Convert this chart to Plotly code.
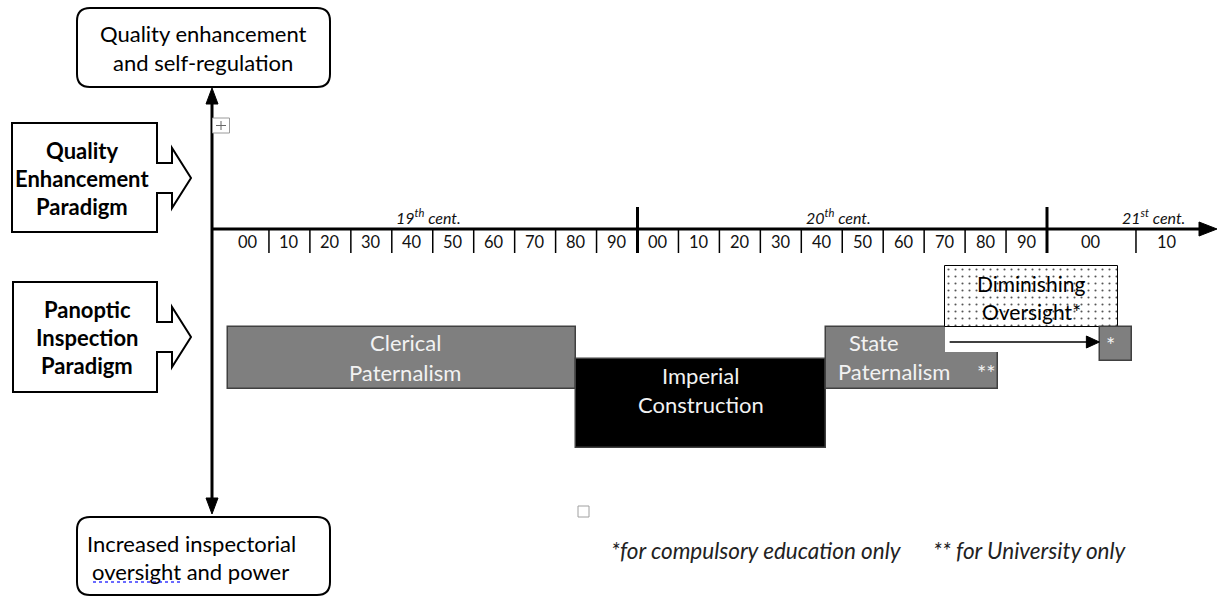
import plotly.graph_objects as go

# ---------------- data ----------------
PERIOD_NAMES = ["Clerical Paternalism", "Imperial Construction", "State Paternalism"]
PERIOD_LINES = [["Clerical", "Paternalism"], ["Imperial", "Construction"], ["State", "Paternalism"]]
PERIOD_START = [1800, 1885, 1946]
PERIOD_END = [1885, 1946, 1988]

DIMINISHING_LINES = ["Diminishing", "Oversight*"]
DIMINISHING_START = 1975
DIMINISHING_END = 2008

STAR_START = 2006
STAR_END = 2009.5

CENTURY_LABELS = ["19<sup>th</sup> cent.", "20<sup>th</sup> cent.", "21<sup>st</sup> cent."]
CENTURY_LABEL_YEAR = [1849, 1949, 2012]
CENTURY_LINES = [1900, 2000]

DECADE_EDGES = list(range(1800, 2011, 10)) + [2017]
DECADE_LABELS = ["00", "10", "20", "30", "40", "50", "60", "70", "80", "90",
                 "00", "10", "20", "30", "40", "50", "60", "70", "80", "90",
                 "00", "10"]

TOP_BOX = ["Quality enhancement", "and self-regulation"]
BOTTOM_BOX = ["Increased inspectorial", "oversight and power"]
PARADIGMS = [["Quality", "Enhancement", "Paradigm"], ["Panoptic", "Inspection", "Paradigm"]]
FOOTNOTES = ["*for compulsory education only", "** for University only"]

# ---------------- scales / layout ----------------
W, H = 1225, 596
FONT = "Lato"
PX_PER_YEAR = 4.095
ORIGIN_PX = 228          # pixel of year 1800
STRETCH_21 = 2.173       # 21st century drawn wider


def u(year):
    """timeline coordinate (in 19th/20th-century year units)"""
    if year <= 2000:
        return year
    return 2000 + (year - 2000) * STRETCH_21


def px2u(px):
    return 1800 + (px - ORIGIN_PX) / PX_PER_YEAR


def du(px):
    return px / PX_PER_YEAR


GREY = "#7f7f7f"
EDGE = "#404040"
LIGHT = "#f2f2f2"
BOX_FS = 22

fig = go.Figure()
shapes = []
ann = []


def bar(start, end, yc, h, color, line_color=None, line_w=0, pattern=None):
    marker = dict(color=color, line=dict(color=line_color or color, width=line_w))
    if pattern:
        marker["pattern"] = pattern
    fig.add_trace(go.Bar(orientation="h", y=[yc], x=[u(end) - u(start)], base=[u(start)],
                         width=[h], marker=marker, hoverinfo="skip", showlegend=False))


def txt(x, y, s, size=BOX_FS, color="black", bold=False, italic=False, xanchor="center", xref="x"):
    if bold:
        s = "<b>" + s + "</b>"
    if italic:
        s = "<i>" + s + "</i>"
    ann.append(dict(x=x, y=y, xref=xref, yref="y", text=s, showarrow=False,
                    xanchor=xanchor, yanchor="middle",
                    font=dict(family=FONT, size=size, color=color)))


# ---- period bars ----
bar(PERIOD_START[0], PERIOD_END[0], 358, 62, GREY, EDGE, 1.5)
bar(PERIOD_START[1], PERIOD_END[1], 403.5, 89, "#000000", EDGE, 1.5)
bar(PERIOD_START[2], PERIOD_END[2], 358, 62, GREY, EDGE, 1.5)
# white gap under the Diminishing Oversight box
bar(DIMINISHING_START, STAR_START, 339.5, 25, "white", "white", 0)
# Diminishing oversight (dotted)
bar(DIMINISHING_START, DIMINISHING_END, 296.5, 61, "white", "#000000", 1,
    pattern=dict(shape=".", fgcolor="#555555", bgcolor="white", size=7, solidity=0.07,
                 fillmode="replace"))
# "*" box
bar(STAR_START, STAR_END, 344, 34, GREY, EDGE, 1.5)

# labels in bars
c0 = (u(PERIOD_START[0]) + u(PERIOD_END[0])) / 2 + du(3)
txt(c0, 342, PERIOD_LINES[0][0], color=LIGHT)
txt(c0, 372, PERIOD_LINES[0][1], color=LIGHT)
c1 = (u(PERIOD_START[1]) + u(PERIOD_END[1])) / 2
txt(c1, 375, PERIOD_LINES[1][0], color=LIGHT)
txt(c1, 404, PERIOD_LINES[1][1], color=LIGHT)
s2 = u(PERIOD_START[2])
txt(s2 + du(21), 342, PERIOD_LINES[2][0], color=LIGHT, xanchor="left")
txt(s2 + du(10), 371, PERIOD_LINES[2][1], color=LIGHT, xanchor="left")
txt(u(PERIOD_END[2]) - du(23), 372, "**", size=22, color=LIGHT, xanchor="left")
txt(u(STAR_START) + du(4), 344, "*", size=22, color=LIGHT, xanchor="left")
cd = (u(DIMINISHING_START) + u(DIMINISHING_END)) / 2
txt(cd, 283, DIMINISHING_LINES[0], size=21)
txt(cd, 311, DIMINISHING_LINES[1], size=21)

# arrow from Diminishing start to '*' box
ax0 = u(DIMINISHING_START) + du(5)
ax1 = u(STAR_START) - du(1)
shapes.append(dict(type="line", xref="x", yref="y", x0=ax0, x1=ax1 - du(10), y0=342, y1=342,
                   line=dict(color="black", width=1.5)))
shapes.append(dict(type="path", xref="x", yref="y",
                   path=f"M{ax1 - du(13)},336 L{ax1},342 L{ax1 - du(13)},348 Z",
                   fillcolor="black", line=dict(color="black", width=1)))

# ---- timeline ----
TL_Y = 229
shapes.append(dict(type="line", xref="x2", yref="y", x0=212, x1=1203, y0=TL_Y, y1=TL_Y,
                   line=dict(color="black", width=3)))
shapes.append(dict(type="path", xref="x2", yref="y",
                   path=f"M1199,{TL_Y - 7} L1217,{TL_Y} L1199,{TL_Y + 7} Z",
                   fillcolor="black", line=dict(color="black", width=1)))
for e in DECADE_EDGES[1:-1]:
    if e in CENTURY_LINES:
        shapes.append(dict(type="line", xref="x", yref="y", x0=u(e), x1=u(e), y0=207, y1=253,
                           line=dict(color="black", width=3)))
    else:
        shapes.append(dict(type="line", xref="x", yref="y", x0=u(e), x1=u(e), y0=TL_Y, y1=253,
                           line=dict(color="black", width=1.5)))
for i, lab in enumerate(DECADE_LABELS):
    xm = (u(DECADE_EDGES[i]) + u(DECADE_EDGES[i + 1])) / 2
    txt(xm, 242, lab, size=16.5, color="#111111")
for lab, yr in zip(CENTURY_LABELS, CENTURY_LABEL_YEAR):
    txt(u(yr), 216, lab, size=16, color="#111111", italic=True)

# ---- vertical axis ----
shapes.append(dict(type="line", xref="x2", yref="y", x0=212, x1=212, y0=100, y1=502,
                   line=dict(color="black", width=3)))
shapes.append(dict(type="path", xref="x2", yref="y", path="M206,104 L212,88 L218,104 Z",
                   fillcolor="black", line=dict(color="black", width=1)))
shapes.append(dict(type="path", xref="x2", yref="y", path="M206,498 L212,514 L218,498 Z",
                   fillcolor="black", line=dict(color="black", width=1)))
# move-handle icon
shapes.append(dict(type="rect", xref="x2", yref="y", x0=212.5, x1=229.5, y0=118, y1=133,
                   fillcolor="white", line=dict(color="#9a9a9a", width=1)))
shapes.append(dict(type="line", xref="x2", yref="y", x0=216, x1=226, y0=125.5, y1=125.5,
                   line=dict(color="#666666", width=1)))
shapes.append(dict(type="line", xref="x2", yref="y", x0=221, x1=221, y0=121, y1=130,
                   line=dict(color="#666666", width=1)))


# ---- rounded boxes ----
def rounded(x0, y0, x1, y1, r):
    return (f"M{x0 + r},{y0} L{x1 - r},{y0} Q{x1},{y0} {x1},{y0 + r} L{x1},{y1 - r} "
            f"Q{x1},{y1} {x1 - r},{y1} L{x0 + r},{y1} Q{x0},{y1} {x0},{y1 - r} "
            f"L{x0},{y0 + r} Q{x0},{y0} {x0 + r},{y0} Z")


shapes.append(dict(type="path", xref="x2", yref="y", path=rounded(77, 8, 330, 87, 13),
                   fillcolor="white", line=dict(color="black", width=2)))
shapes.append(dict(type="path", xref="x2", yref="y", path=rounded(77, 517, 330, 595, 13),
                   fillcolor="white", line=dict(color="black", width=2)))
txt(203, 33, TOP_BOX[0], xref="x2")
txt(203, 62, TOP_BOX[1], xref="x2")
txt(191, 543, BOTTOM_BOX[0], xref="x2")
txt(190, 571, BOTTOM_BOX[1], xref="x2")
shapes.append(dict(type="line", xref="x2", yref="y", x0=93, x1=183, y0=582, y1=582,
                   line=dict(color="#3a3aff", width=1.5, dash="dot")))


# ---- paradigm arrow boxes ----
def arrow_box(L, R, T, B, cy):
    return (f"M{L},{T} L{R},{T} L{R},{cy - 15} L{R + 15},{cy - 15} L{R + 15},{cy - 30} "
            f"L{R + 34},{cy} L{R + 15},{cy + 30} L{R + 15},{cy + 15} L{R},{cy + 15} "
            f"L{R},{B} L{L},{B} Z")


for lines, (L, T, B, cy, cx) in zip(PARADIGMS, [(12, 123, 232, 178, 82), (13, 282, 392, 337, 87)]):
    shapes.append(dict(type="path", xref="x2", yref="y", path=arrow_box(L, 157, T, B, cy),
                       fillcolor="white", line=dict(color="black", width=2)))
    for k, s in enumerate(lines):
        txt(cx, cy - 28 + 28 * k, s, bold=True, xref="x2")

# ---- footnotes ----
shapes.append(dict(type="rect", xref="x2", yref="y", x0=578, x1=589, y0=506, y1=517,
                   line=dict(color="#a0a0a0", width=1)))
txt(609, 550, FOOTNOTES[0], size=22.5, color="#222222", italic=True, xanchor="left", xref="x2")
txt(931, 550, FOOTNOTES[1], size=22.5, color="#222222", italic=True, xanchor="left", xref="x2")

# invisible trace to anchor the pixel axis
fig.add_trace(go.Scatter(x=[0, W], y=[0, H], xaxis="x2", yaxis="y", mode="markers",
                         marker=dict(opacity=0), hoverinfo="skip", showlegend=False))

fig.update_layout(
    width=W, height=H, margin=dict(l=0, r=0, t=0, b=0),
    paper_bgcolor="white", plot_bgcolor="white",
    barmode="overlay", bargap=0,
    xaxis=dict(range=[px2u(0), px2u(W)], visible=False, fixedrange=True),
    xaxis2=dict(range=[0, W], overlaying="x", visible=False, fixedrange=True),
    yaxis=dict(range=[H, 0], visible=False, fixedrange=True),
    shapes=shapes, annotations=ann, showlegend=False,
)
fig.write_html("out.html", config={"displayModeBar": False},
               post_script="document.body.style.margin='0';document.body.style.overflow='hidden';")
